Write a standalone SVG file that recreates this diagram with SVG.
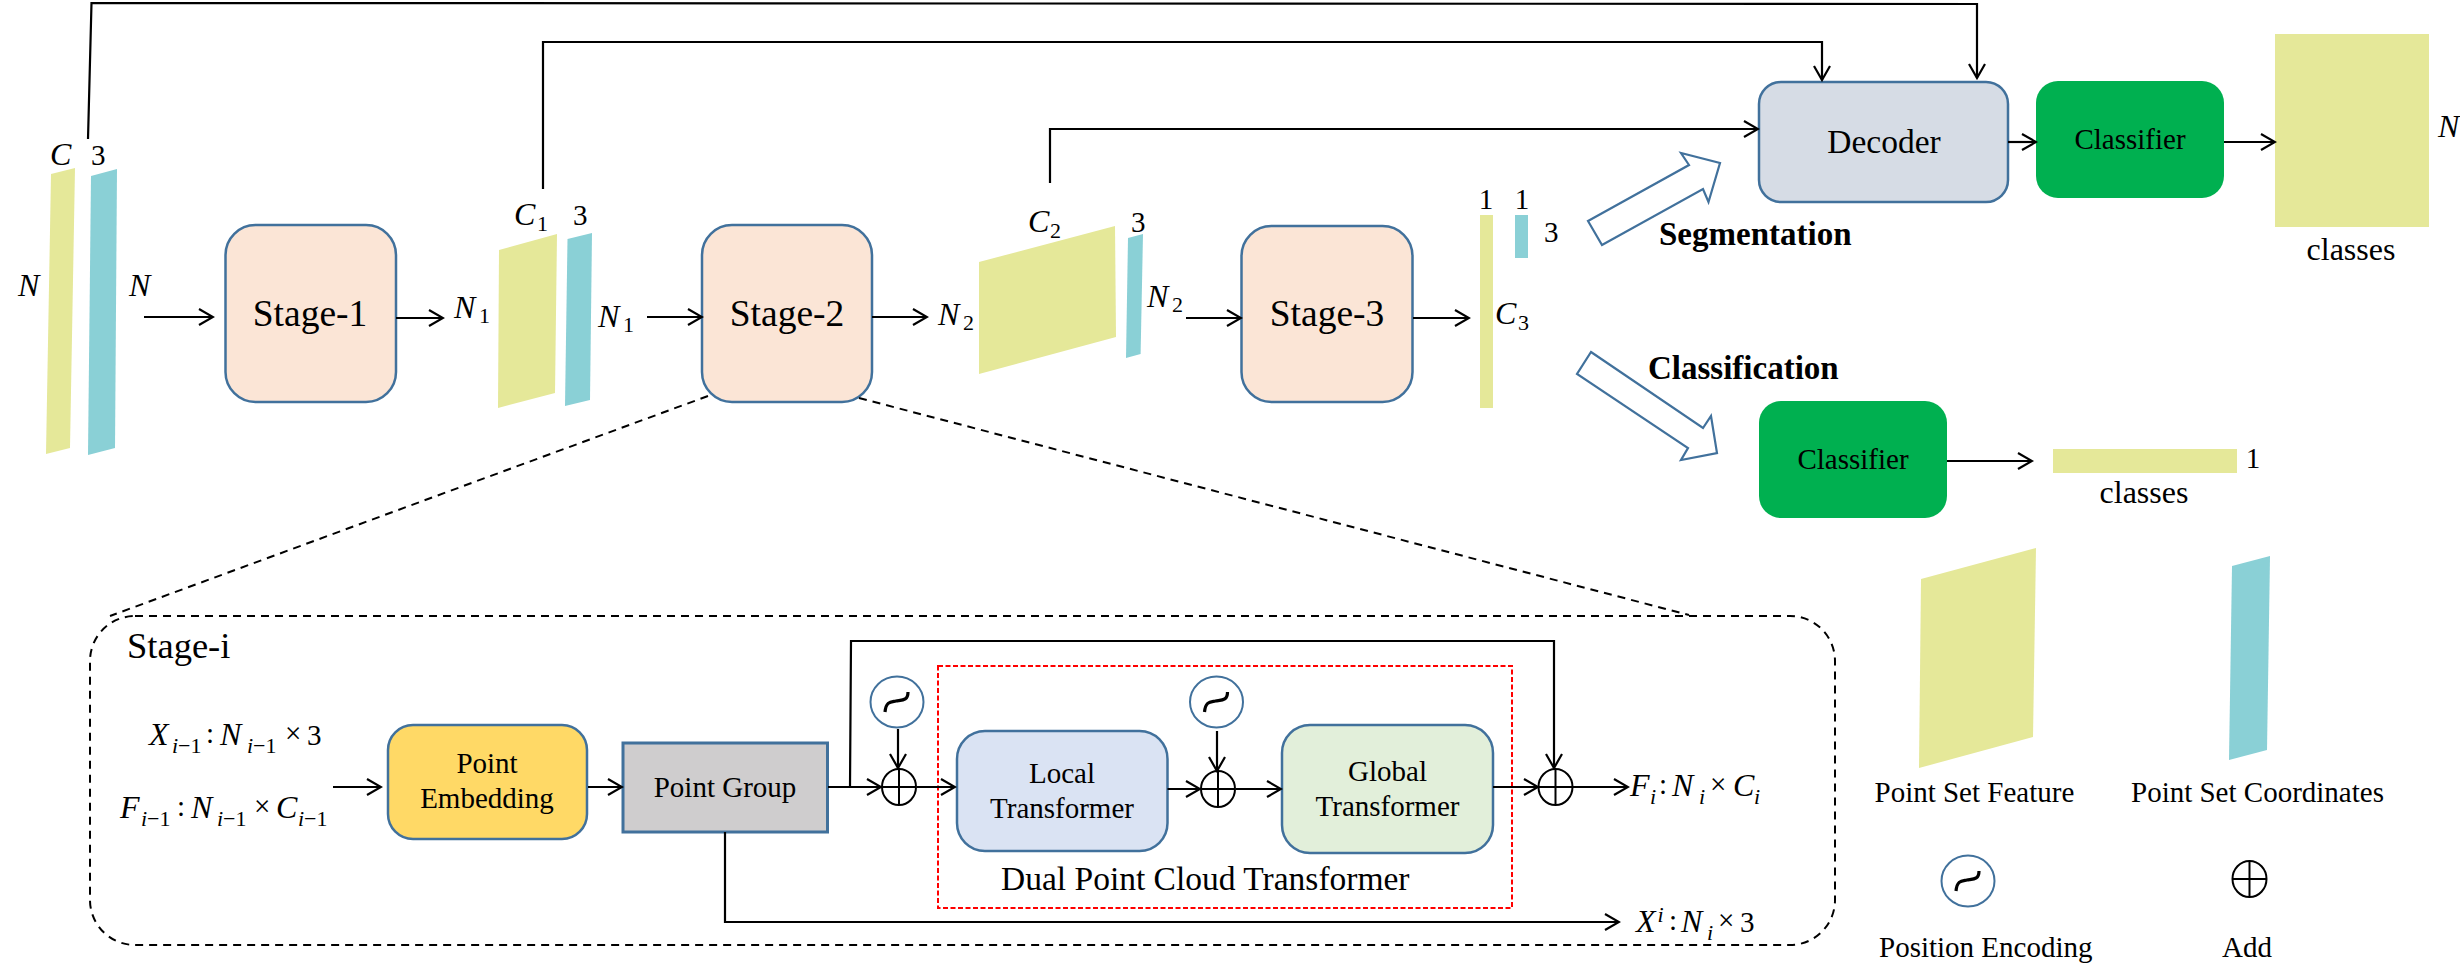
<svg xmlns="http://www.w3.org/2000/svg" width="2460" height="973" viewBox="0 0 2460 973">
<style>
text{font-family:"Liberation Serif","Times New Roman",serif;fill:#000}
.s36{font-size:37.5px}.s36i{font-size:36.5px}.s33{font-size:33.5px}.s29{font-size:29px}.s31{font-size:32px}
.b{font-weight:bold;font-size:33px}
.m{font-size:32px;font-style:italic}
.n{font-size:29px}.sb{font-size:22px}.si{font-size:22px;font-style:italic}
.mid{text-anchor:middle}
.y{fill:#e5e899}.t{fill:#8ad0d6}
.box{stroke:#41719c;stroke-width:2.5}
.ln{fill:none;stroke:#000;stroke-width:2.2}
.ar{marker-end:url(#ah)}
.ds{fill:none;stroke:#000;stroke-width:2;stroke-dasharray:8 6}
.hol{fill:#fff;stroke:#41719c;stroke-width:2.2}
.pe{fill:#fff;stroke:#41719c;stroke-width:2}
.pl{fill:none;stroke:#000;stroke-width:2}
.tl{fill:none;stroke:#000;stroke-width:3.2}
</style>
<defs>
<marker id="ah" viewBox="-16 -10 18 20" refX="0" refY="0" markerWidth="18" markerHeight="20" markerUnits="userSpaceOnUse" orient="auto">
<path d="M-14,-8 L0,0 L-14,8" fill="none" stroke="#000" stroke-width="2.2"/>
</marker>
<g id="peSym"><ellipse rx="26.5" ry="25.5" class="pe"/><path class="tl" d="M-12,10 C-11,-1 -6,0 -1,-1 C5,-2 11,-1 11,-10"/></g>
<g id="plusSym"><ellipse rx="17" ry="18" class="pl"/><path class="pl" d="M-17,0H17M0,-18V18"/></g>
</defs>

<g id="input-features">
<polygon class="y" points="51,174 75,168 70,448 46,454"/>
<polygon class="t" points="91,176 117,169 115,448 88,455"/>
<text class="m" x="50" y="165">C</text><text class="n" x="91" y="165">3</text>
<text class="m" x="18" y="296">N</text><text class="m" x="129" y="296">N</text>
</g>
<g id="stage-1"><rect class="box" x="225.5" y="225" width="170.5" height="177" rx="30" fill="#fbe5d6"/><text class="s36 mid" x="310" y="326">Stage-1</text></g>
<g id="features-1">
<polygon class="y" points="499,250 557,234 555,393 498,408"/>
<polygon class="t" points="567.5,239 592,233 590,400 565,406"/>
<text class="m" x="514" y="225">C<tspan class="sb" x="537" y="231" font-style="normal">1</tspan></text>
<text class="n" x="573" y="225">3</text>
<text class="m" x="454" y="318">N<tspan class="sb" x="479" y="323" font-style="normal">1</tspan></text>
<text class="m" x="598" y="327">N<tspan class="sb" x="623" y="332" font-style="normal">1</tspan></text>
</g>
<g id="stage-2"><rect class="box" x="702" y="225" width="170" height="177" rx="30" fill="#fbe5d6"/><text class="s36 mid" x="787" y="326">Stage-2</text></g>
<g id="features-2">
<polygon class="y" points="979,262 1115,226 1116,337 979,374"/>
<polygon class="t" points="1128,238 1143,234 1140.6,354 1126,358"/>
<text class="m" x="1028" y="232">C<tspan class="sb" x="1050" y="238" font-style="normal">2</tspan></text>
<text class="n" x="1131" y="232">3</text>
<text class="m" x="938" y="325">N<tspan class="sb" x="963" y="330" font-style="normal">2</tspan></text>
<text class="m" x="1147" y="307">N<tspan class="sb" x="1172" y="312" font-style="normal">2</tspan></text>
</g>
<g id="stage-3"><rect class="box" x="1241.5" y="226" width="171" height="176" rx="30" fill="#fbe5d6"/><text class="s36 mid" x="1327" y="326">Stage-3</text></g>
<g id="features-3">
<rect class="y" x="1480" y="215" width="13" height="193"/>
<rect class="t" x="1515" y="215" width="13" height="43"/>
<text class="n mid" x="1486" y="209">1</text><text class="n mid" x="1522" y="209">1</text>
<text class="n" x="1544" y="242">3</text>
<text class="m" x="1495" y="324">C<tspan class="sb" x="1518" y="330" font-style="normal">3</tspan></text>
</g>
<g id="decoder"><rect class="box" x="1759" y="82" width="249" height="120" rx="22" fill="#d6dce5"/><text class="s33 mid" x="1884" y="153">Decoder</text></g>
<g id="classifier-seg"><rect x="2036" y="81" width="188" height="117" rx="22" fill="#00b050"/><text class="s29 mid" x="2130" y="149">Classifier</text></g>
<g id="output-seg"><rect class="y" x="2275" y="34" width="154" height="193"/>
<text class="m" x="2438" y="137">N</text><text class="s31 mid" x="2351" y="260">classes</text></g>
<g id="classifier-cls"><rect x="1759" y="401" width="188" height="117" rx="22" fill="#00b050"/><text class="s29 mid" x="1853" y="469">Classifier</text></g>
<g id="output-cls"><rect class="y" x="2053" y="449" width="184" height="24"/>
<text class="n mid" x="2253" y="468">1</text><text class="s31 mid" x="2144" y="503">classes</text></g>
<g id="seg-arrow"><polygon class="hol" points="1588,221 1689,165 1681,153 1720,163 1708.5,202 1703,189 1602,245"/><text class="b" x="1659" y="245">Segmentation</text></g>
<g id="cls-arrow"><polygon class="hol" points="1591,352 1703,428 1711,416 1717,453 1681,460 1688,448 1577,374"/><text class="b" x="1648" y="379">Classification</text></g>

<g id="stage-i">
<rect class="ds" x="90" y="616" width="1745" height="329" rx="45"/>
<text class="s36i" x="127" y="658">Stage-i</text>
</g>
<g id="dual-transformer-frame"><rect x="938" y="666" width="574" height="242" fill="none" stroke="#f00" stroke-width="2" stroke-dasharray="5 2.5"/><text class="s33" x="1001" y="890">Dual Point Cloud Transformer</text></g>
<g id="point-embedding"><rect class="box" x="388" y="725" width="199" height="114" rx="25" fill="#ffd966"/><text class="s29 mid" x="487" y="773">Point</text><text class="s29 mid" x="487" y="808">Embedding</text></g>
<g id="point-group"><rect x="623" y="743" width="204.5" height="89" fill="#cfcdce" stroke="#41719c" stroke-width="3"/><text class="s29 mid" x="725" y="797">Point Group</text></g>
<g id="local-transformer"><rect class="box" x="957" y="731" width="210.5" height="120" rx="28" fill="#dae3f3"/><text class="s29 mid" x="1062" y="783">Local</text><text class="s29 mid" x="1062" y="818">Transformer</text></g>
<g id="global-transformer"><rect class="box" x="1282" y="725" width="211" height="128" rx="28" fill="#e2efda"/><text class="s29 mid" x="1387.5" y="781">Global</text><text class="s29 mid" x="1387.5" y="816">Transformer</text></g>
<use id="pe-1" href="#peSym" x="897" y="702"/>
<use id="pe-2" href="#peSym" x="1216.5" y="702"/>
<use id="add-1" href="#plusSym" x="899" y="787"/>
<use id="add-2" href="#plusSym" x="1218" y="789"/>
<use id="add-3" href="#plusSym" x="1555.5" y="787"/>
<g id="label-x-in">
<text class="m" x="149" y="745">X<tspan class="si" x="172" y="753">i</tspan><tspan class="sb" x="178" y="753" font-style="normal">−1</tspan><tspan class="n" x="206" y="743" font-style="normal">:</tspan><tspan x="220" y="745">N</tspan><tspan class="si" x="247" y="753">i</tspan><tspan class="sb" x="253" y="753" font-style="normal">−1</tspan><tspan class="n" x="285" y="743" font-style="normal">×</tspan><tspan class="n" x="307" y="745" font-style="normal">3</tspan></text>
</g>
<g id="label-f-in">
<text class="m" x="120" y="818">F<tspan class="si" x="141" y="826">i</tspan><tspan class="sb" x="147" y="826" font-style="normal">−1</tspan><tspan class="n" x="177" y="816" font-style="normal">:</tspan><tspan x="191" y="818">N</tspan><tspan class="si" x="217" y="826">i</tspan><tspan class="sb" x="223" y="826" font-style="normal">−1</tspan><tspan class="n" x="254" y="816" font-style="normal">×</tspan><tspan x="276" y="818">C</tspan><tspan class="si" x="298" y="826">i</tspan><tspan class="sb" x="304" y="826" font-style="normal">−1</tspan></text>
</g>
<g id="label-f-out">
<text class="m" x="1630" y="796">F<tspan class="si" x="1650" y="804">i</tspan><tspan class="n" x="1659" y="794" font-style="normal">:</tspan><tspan x="1672" y="796">N</tspan><tspan class="si" x="1699" y="804">i</tspan><tspan class="n" x="1710" y="794" font-style="normal">×</tspan><tspan x="1733" y="796">C</tspan><tspan class="si" x="1754" y="804">i</tspan></text>
</g>
<g id="label-x-out">
<text class="m" x="1636" y="932">X<tspan class="si" x="1657.5" y="922">i</tspan><tspan class="n" x="1669" y="930" font-style="normal">:</tspan><tspan x="1681" y="932">N</tspan><tspan class="si" x="1707" y="940">i</tspan><tspan class="n" x="1718" y="930" font-style="normal">×</tspan><tspan class="n" x="1740" y="932" font-style="normal">3</tspan></text>
</g>

<g id="legend-feature"><polygon class="y" points="1921,579 2036,548 2033,737 1919,768"/><text class="s29" x="1874.5" y="802">Point Set Feature</text></g>
<g id="legend-coordinates"><polygon class="t" points="2232,566 2270,556 2267,750 2229,760"/><text class="s29" x="2131" y="802">Point Set Coordinates</text></g>
<g id="legend-position"><use href="#peSym" x="1968" y="881"/><text class="s29" x="1879" y="957">Position Encoding</text></g>
<g id="legend-add"><use href="#plusSym" x="2249.5" y="879"/><text class="s29 mid" x="2247" y="957">Add</text></g>

<g id="connectors">
<path class="ln ar" d="M88,139 L91.5,3 L1977,4 V78"/>
<path class="ln ar" d="M543,189 V42 H1822 V80"/>
<path class="ln ar" d="M1050,183 V129 H1758"/>
<path class="ln ar" d="M144,317 H213"/>
<path class="ln ar" d="M396,318 H443"/>
<path class="ln ar" d="M647,317 H702"/>
<path class="ln ar" d="M872,317 H927"/>
<path class="ln ar" d="M1186,318 H1241"/>
<path class="ln ar" d="M1413,318 H1469"/>
<path class="ln ar" d="M2008,142 H2036"/>
<path class="ln ar" d="M2224,142 H2275"/>
<path class="ln ar" d="M1947,461 H2032"/>
<path class="ds" d="M708,396 L110,616"/>
<path class="ds" d="M859,398 L1689,615"/>
<path class="ln ar" d="M333,787 H381"/>
<path class="ln ar" d="M588,787 H622"/>
<path class="ln ar" d="M828,787 H881"/>
<path class="ln ar" d="M850,787 L851,641 H1554 V768"/>
<path class="ln ar" d="M725,832 V922 H1619"/>
<path class="ln ar" d="M898,729 V768"/>
<path class="ln ar" d="M917,787 H955"/>
<path class="ln ar" d="M1167.5,789 H1200"/>
<path class="ln ar" d="M1217,731 V771"/>
<path class="ln ar" d="M1236,789 H1281"/>
<path class="ln ar" d="M1493,787 H1538"/>
<path class="ln ar" d="M1573,787 H1628"/>
</g>
</svg>
